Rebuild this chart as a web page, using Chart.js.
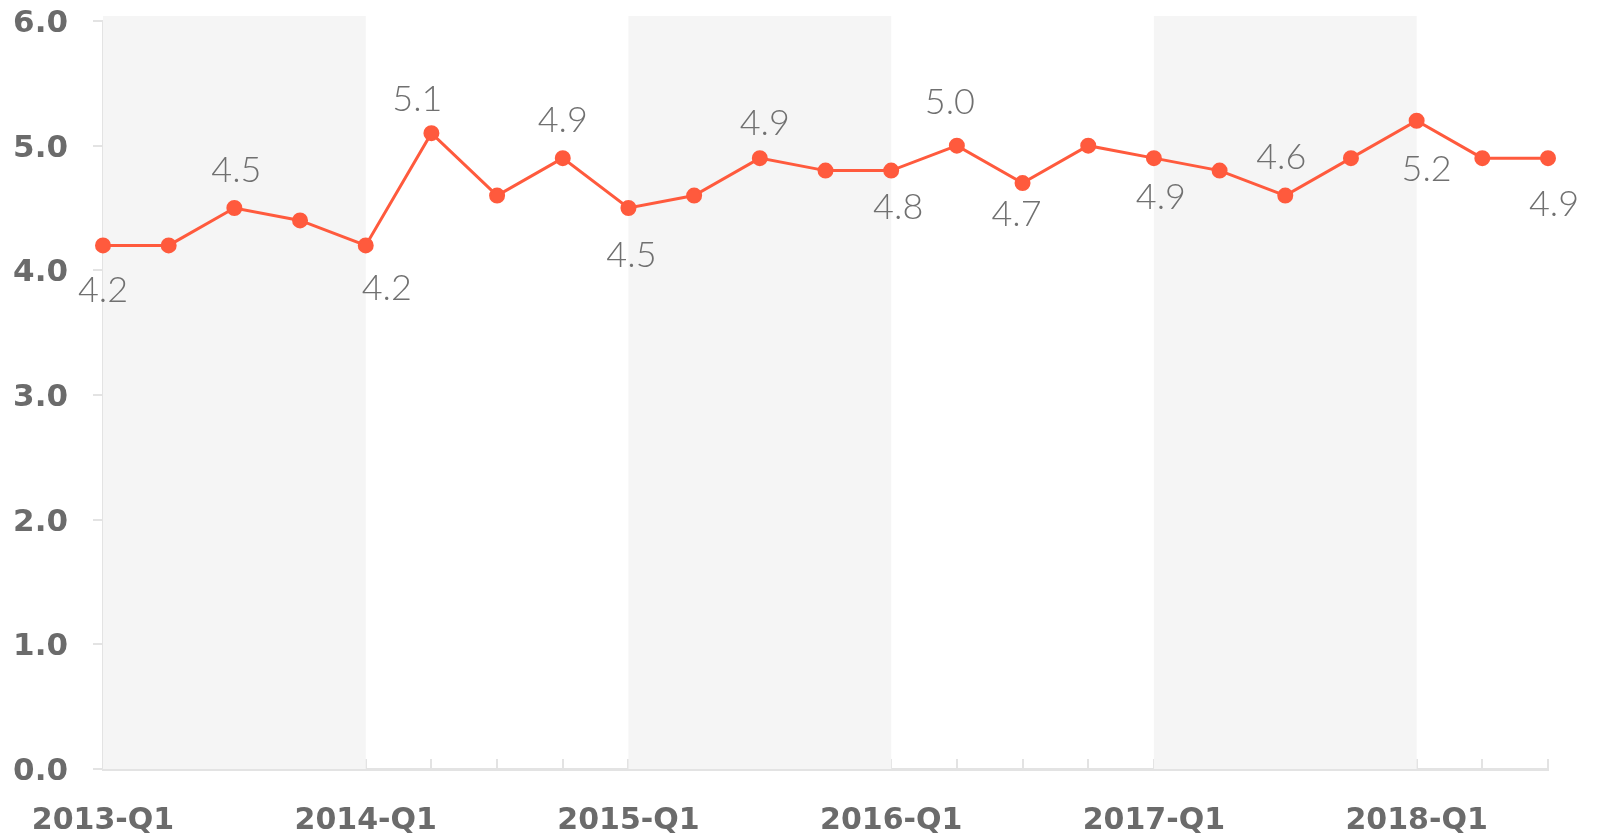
<!DOCTYPE html>
<html>
<head>
<meta charset="utf-8">
<script src="https://cdn.jsdelivr.net/npm/chart.js@4/dist/chart.umd.min.js"></script>
<style>
  html, body { margin: 0; padding: 0; background: #fff; }
  #wrap { width: 1598px; height: 835px; }
</style>
</head>
<body>
<div id="wrap"><canvas id="chart"></canvas></div>
<script>
var labels = ['2013-Q1','2013-Q2','2013-Q3','2013-Q4',
              '2014-Q1','2014-Q2','2014-Q3','2014-Q4',
              '2015-Q1','2015-Q2','2015-Q3','2015-Q4',
              '2016-Q1','2016-Q2','2016-Q3','2016-Q4',
              '2017-Q1','2017-Q2','2017-Q3','2017-Q4',
              '2018-Q1','2018-Q2','2018-Q3'];
var values = [4.2, 4.2, 4.5, 4.4, 4.2, 5.1, 4.6, 4.9, 4.5, 4.6, 4.9, 4.8,
              4.8, 5.0, 4.7, 5.0, 4.9, 4.8, 4.6, 4.9, 5.2, 4.9, 4.9];
var yTicks = [0, 1, 2, 3, 4, 5, 6];

// shaded year bands (start / end quarter)
var bandStart = ['2013-Q1', '2015-Q1', '2017-Q1'];
var bandEnd = ['2014-Q1', '2016-Q1', '2018-Q1'];

// which points get a value label, and where it sits
var labelIdx = [0, 2, 4, 5, 7, 8, 10, 12, 13, 14, 16, 18, 20, 22];
var labelDx  = [0, 2, 21, -14, 0, 3, 5, 7, -7, -6, 7, -4, 10, 6];
var labelDy  = [45, -38, 43, -34, -38, 47, -35, 37, -43, 31, 39, -38, 49, 46];

var bands = {
    id: 'bands',
    beforeDatasetsDraw: function (chart) {
        var ctx = chart.ctx, x = chart.scales.x, area = chart.chartArea;
        ctx.save();
        ctx.fillStyle = '#f5f5f5';
        for (var i = 0; i < bandStart.length; i++) {
            var x1 = x.getPixelForValue(labels.indexOf(bandStart[i]));
            var x2 = x.getPixelForValue(labels.indexOf(bandEnd[i]));
            ctx.fillRect(x1, area.top - 5, x2 - x1, area.bottom - area.top + 5);
        }
        ctx.restore();
    }
};

var valueLabels = {
    id: 'valueLabels',
    afterDatasetsDraw: function (chart) {
        var ctx = chart.ctx, meta = chart.getDatasetMeta(0);
        ctx.save();
        ctx.font = '300 36px Lato, "Open Sans", sans-serif';
        ctx.fillStyle = '#707070';
        ctx.textAlign = 'center';
        ctx.textBaseline = 'middle';
        labelIdx.forEach(function (idx, k) {
            var pt = meta.data[idx];
            ctx.fillText(values[idx].toFixed(1), pt.x + labelDx[k], pt.y + labelDy[k]);
        });
        ctx.restore();
    }
};

new Chart(document.getElementById('chart'), {
    type: 'line',
    data: {
        labels: labels,
        datasets: [{
            data: values,
            borderColor: '#ff5a3d',
            backgroundColor: '#ff5a3d',
            borderWidth: 3,
            pointRadius: 7,
            pointBorderWidth: 2,
            pointBackgroundColor: '#ff5a3d',
            pointBorderColor: '#ff5a3d',
            tension: 0
        }]
    },
    options: {
        responsive: true,
        maintainAspectRatio: false,
        animation: false,
        layout: { padding: { left: 0, right: 50, top: 21, bottom: 0 } },
        plugins: { legend: { display: false }, tooltip: { enabled: false } },
        scales: {
            x: {
                offset: false,
                grid: { drawOnChartArea: false, color: '#e3e3e3', lineWidth: 2, tickLength: -10 },
                border: { color: '#e3e3e3', width: 3 },
                afterFit: function (s) {
                    s.height = 66;
                    s.paddingLeft = 0; s.paddingRight = 0;
                },
                ticks: {
                    autoSkip: false,
                    maxRotation: 0,
                    padding: 44,
                    color: '#6b6b6b',
                    font: { family: '"DejaVu Sans"', size: 30, weight: 'bold' },
                    callback: function (v, i) { return i % 4 === 0 ? labels[i] : ''; }
                }
            },
            y: {
                min: 0,
                max: 6,
                afterFit: function (s) {
                    s.width = 103;
                    s.paddingTop = 0; s.paddingBottom = 0;
                },
                afterBuildTicks: function (s) { s.ticks = yTicks.map(function (v) { return { value: v }; }); },
                grid: { drawOnChartArea: false, color: '#e3e3e3', lineWidth: 2, tickLength: 10 },
                border: { color: '#e3e3e3', width: 3 },
                ticks: {
                    padding: 25,
                    labelOffset: 3,
                    color: '#6b6b6b',
                    font: { family: '"DejaVu Sans"', size: 31, weight: 'bold' },
                    callback: function (v) { return v.toFixed(1); }
                }
            }
        }
    },
    plugins: [bands, valueLabels]
});
</script>
</body>
</html>
